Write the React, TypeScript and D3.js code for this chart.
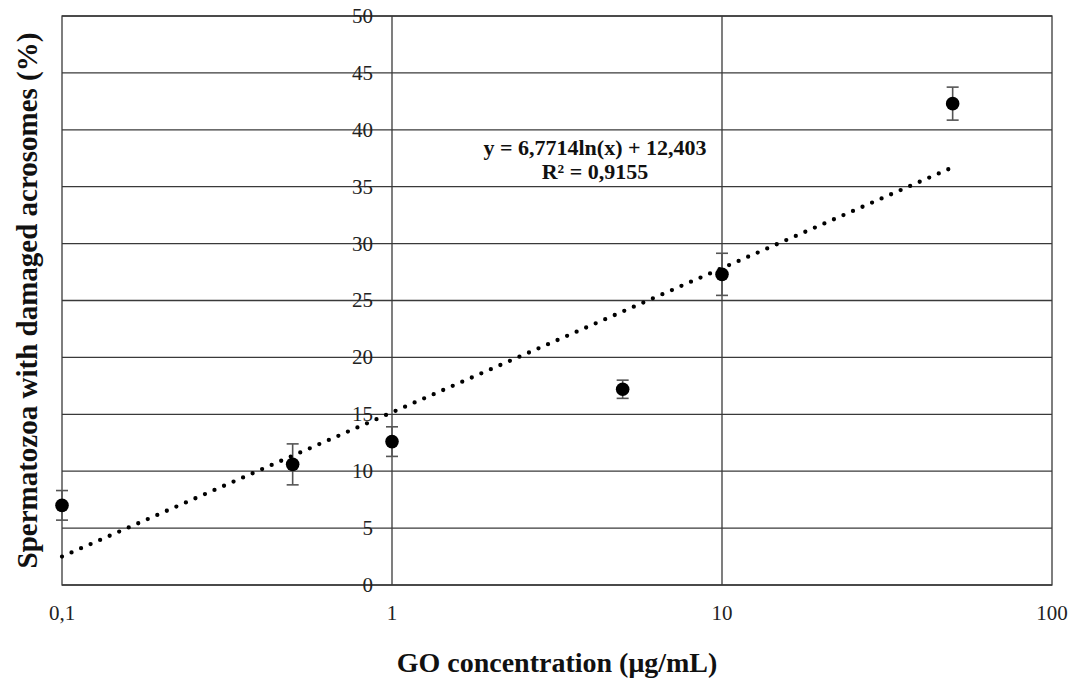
import * as d3 from "d3";
import * as React from "react";

// GO concentration (µg/mL) vs spermatozoa with damaged acrosomes (%)
const concentrations = [0.1, 0.5, 1, 5, 10, 50];
const damagedPct = [7.0, 10.6, 12.6, 17.2, 27.3, 42.3];
const errorPct = [1.3, 1.8, 1.3, 0.8, 1.85, 1.45];

// logarithmic trendline as drawn (endpoints at first and last concentration)
const trendX = [0.1, 50];
const trendY = [2.5, 36.7];

const xTicks = [0.1, 1, 10, 100];
const xTickLabels = ["0,1", "1", "10", "100"];
const yTicks = [0, 5, 10, 15, 20, 25, 30, 35, 40, 45, 50];
const xGridValues = [1, 10];

const equationLines = ["y = 6,7714ln(x) + 12,403", "R² = 0,9155"];

const width = 1070;
const height = 682;
const margin = { top: 16, right: 18, bottom: 97, left: 62 };
const serif = "'Liberation Serif', 'Times New Roman', serif";

export default function App() {
  const x = d3
    .scaleLog()
    .domain([0.1, 100])
    .range([margin.left, width - margin.right]);
  const y = d3
    .scaleLinear()
    .domain([0, 50])
    .range([height - margin.bottom, margin.top]);

  const points = concentrations.map((c, i) => ({
    x: c,
    y: damagedPct[i],
    e: errorPct[i],
  }));
  const trend = trendX.map((c, i) => [c, trendY[i]] as [number, number]);
  const line = d3
    .line<[number, number]>()
    .x((d) => x(d[0]))
    .y((d) => y(d[1]));

  const gridColor = "#3a3a3a";
  const axisX = x(1);

  return (
    <svg
      width={width}
      height={height}
      style={{ position: "absolute", left: 0, top: 0, background: "#fff" }}
      fontFamily={serif}
    >
      {/* horizontal grid */}
      {yTicks.map((t) => (
        <line
          key={"h" + t}
          x1={x(0.1)}
          x2={x(100)}
          y1={y(t)}
          y2={y(t)}
          stroke={gridColor}
          strokeWidth={1.3}
        />
      ))}
      {/* vertical grid */}
      {xGridValues.map((v) => (
        <line
          key={"v" + v}
          x1={x(v)}
          x2={x(v)}
          y1={y(0)}
          y2={y(50)}
          stroke={gridColor}
          strokeWidth={1.3}
        />
      ))}
      <rect
        x={x(0.1)}
        y={y(50)}
        width={x(100) - x(0.1)}
        height={y(0) - y(50)}
        fill="none"
        stroke={gridColor}
        strokeWidth={1.3}
      />

      {/* y tick labels next to the axis at x = 1 */}
      {yTicks.map((t) => (
        <text
          key={"yt" + t}
          x={axisX - 19}
          y={y(t)}
          dy="0.33em"
          textAnchor="end"
          fontSize={21}
          fill="#222"
        >
          {t}
        </text>
      ))}

      {/* x tick labels */}
      {xTicks.map((t, i) => (
        <text
          key={"xt" + t}
          x={x(t)}
          y={y(0) + 35}
          textAnchor="middle"
          fontSize={21}
          fill="#222"
        >
          {xTickLabels[i]}
        </text>
      ))}

      {/* error bars */}
      {points.map((p) => (
        <g key={"e" + p.x} stroke="#555" strokeWidth={1.6}>
          <line x1={x(p.x)} x2={x(p.x)} y1={y(p.y - p.e)} y2={y(p.y + p.e)} />
          <line x1={x(p.x) - 6} x2={x(p.x) + 6} y1={y(p.y - p.e)} y2={y(p.y - p.e)} />
          <line x1={x(p.x) - 6} x2={x(p.x) + 6} y1={y(p.y + p.e)} y2={y(p.y + p.e)} />
        </g>
      ))}

      {/* points */}
      {points.map((p) => (
        <circle key={"p" + p.x} cx={x(p.x)} cy={y(p.y)} r={6.8} fill="#000" />
      ))}

      {/* dotted trendline */}
      <path
        d={line(trend) ?? ""}
        fill="none"
        stroke="#000"
        strokeWidth={4.3}
        strokeLinecap="round"
        strokeDasharray="0 10.4"
      />

      {/* equation */}
      <text
        x={595}
        textAnchor="middle"
        fontSize={22}
        fontWeight="bold"
        fill="#111"
      >
        {equationLines.map((l, i) => (
          <tspan key={l} x={595} y={155 + i * 24}>
            {l}
          </tspan>
        ))}
      </text>

      {/* axis titles */}
      <text
        x={(x(0.1) + x(100)) / 2}
        y={672}
        textAnchor="middle"
        fontSize={28}
        fontWeight="bold"
        fill="#111"
      >
        GO concentration (μg/mL)
      </text>
      <text
        transform={`translate(37,${(y(0) + y(50)) / 2}) rotate(-90)`}
        textAnchor="middle"
        fontSize={29}
        fontWeight="bold"
        fill="#111"
      >
        Spermatozoa with damaged acrosomes (%)
      </text>
    </svg>
  );
}
